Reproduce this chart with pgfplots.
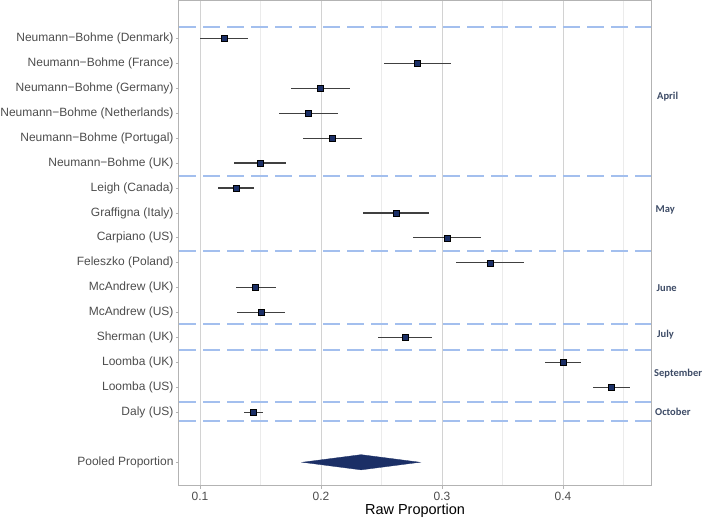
\documentclass[border=0pt]{standalone}
\usepackage{pgfplots}
\pgfplotsset{compat=1.18}
\usepackage{fontspec}
\setmainfont{Liberation Sans}
\newfontfamily\monthfont{Carlito}
\definecolor{navy}{HTML}{1B2F66}
\definecolor{dashblue}{HTML}{A3BFEE}
\definecolor{monthc}{HTML}{3D4B66}
\definecolor{gridmaj}{HTML}{D2D2D2}
\definecolor{gridmin}{HTML}{EBEBEB}
\definecolor{framec}{HTML}{B3B3B3}
\definecolor{ticklab}{HTML}{4D4D4D}
\begin{document}
\begin{tikzpicture}[x=1pt,y=1pt]
\useasboundingbox (0,0) rectangle (704,518);
\begin{axis}[
  at={(179pt,32.3pt)}, anchor=south west,
  scale only axis, width=472pt, height=484.7pt,
  xmin=0.0826, xmax=0.4727,
  ymin=-0.5, ymax=18.94, y dir=reverse,
  clip=false,
  xtick={0.1,0.2,0.3,0.4},
  xticklabels={0.1,0.2,0.3,0.4},
  minor xtick={0.15,0.25,0.35,0.45},
  ytick={1,2,3,4,5,6,7,8,9,10,11,12,13,14,15,16,18},
  yticklabels={Neumann−Bohme (Denmark),Neumann−Bohme (France),Neumann−Bohme (Germany),Neumann−Bohme (Netherlands),Neumann−Bohme (Portugal),Neumann−Bohme (UK),Leigh (Canada),Graffigna (Italy),Carpiano (US),Feleszko (Poland),McAndrew (UK),McAndrew (US),Sherman (UK),Loomba (UK),Loomba (US),Daly (US),Pooled Proportion},
  xtick pos=bottom, ytick pos=left,
  xmajorgrids, xminorgrids,
  major x grid style={gridmaj, line width=0.9pt},
  minor x grid style={gridmin, line width=0.6pt},
  axis line style={framec, line width=1pt},
  tick align=outside, major tick length=3pt, minor tick length=0pt,
  tick style={framec, line width=0.8pt},
  ticklabel style={font=\fontsize{12}{14}\selectfont, text=ticklab},
  yticklabel style={xshift=1pt},
  xlabel={Raw Proportion},
  xlabel style={font=\fontsize{14.5}{16}\selectfont, yshift=4pt},
  /pgf/number format/assume math mode=true,
]
% dashed month separators
\foreach \yy in {0.546,6.529,9.528,12.459,13.515,15.59,16.34} {
  \edef\tmp{\noexpand\addplot[dashblue, line width=2pt, dash pattern=on 17pt off 7pt, forget plot] coordinates {(0.0826,\yy) (0.4727,\yy)};}
  \tmp
}
% error bars and points
\addplot[only marks, mark=square*, mark size=3pt,
  mark options={fill=navy, draw=black, line width=0.5pt},
  error bars/.cd, x dir=both, x explicit, error mark=none,
  error bar style={line width=1.2pt, color=black!75}]
  table[x=x, y=y, x error plus=ep, x error minus=em] {
x      y   ep      em
0.1201 1   0.0199  0.0201
0.2799 2   0.0275  0.0276
0.1997 3   0.0243  0.0245
0.1898 4   0.0240  0.0242
0.2094 5   0.0242  0.0243
0.1496 6   0.0217  0.0212
0.1298 7   0.0146  0.0147
0.2620 8   0.0270  0.0270
0.3039 9   0.0283  0.0281
0.3397 10  0.0281  0.0281
0.1460 11  0.0171  0.0165
0.1504 12  0.0201  0.0201
0.2694 13  0.0221  0.0223
0.4000 14  0.0146  0.0151
0.4397 15  0.0154  0.0149
0.1441 16  0.0077  0.0075
};
% pooled diamond
\addplot[fill=navy, draw=navy, line width=0.3pt] coordinates {(0.1845,18) (0.2331,17.695) (0.2818,18) (0.2331,18.305)} -- cycle;
% month labels
\begin{scope}[every node/.style={anchor=west, font=\monthfont\bfseries\fontsize{10.5}{12}\selectfont, text=monthc, inner sep=0pt}]
\node at (axis cs:0.4727,3.32) [xshift=6pt] {April};
\node at (axis cs:0.4727,7.86) [xshift=4.5pt] {May};
\node at (axis cs:0.4727,11.0) [xshift=5.5pt] {June};
\node at (axis cs:0.4727,12.87) [xshift=6pt] {July};
\node at (axis cs:0.4727,14.45) [xshift=3pt] {September};
\node at (axis cs:0.4727,15.96) [xshift=4pt] {October};
\end{scope}
\end{axis}
\end{tikzpicture}
\end{document}
